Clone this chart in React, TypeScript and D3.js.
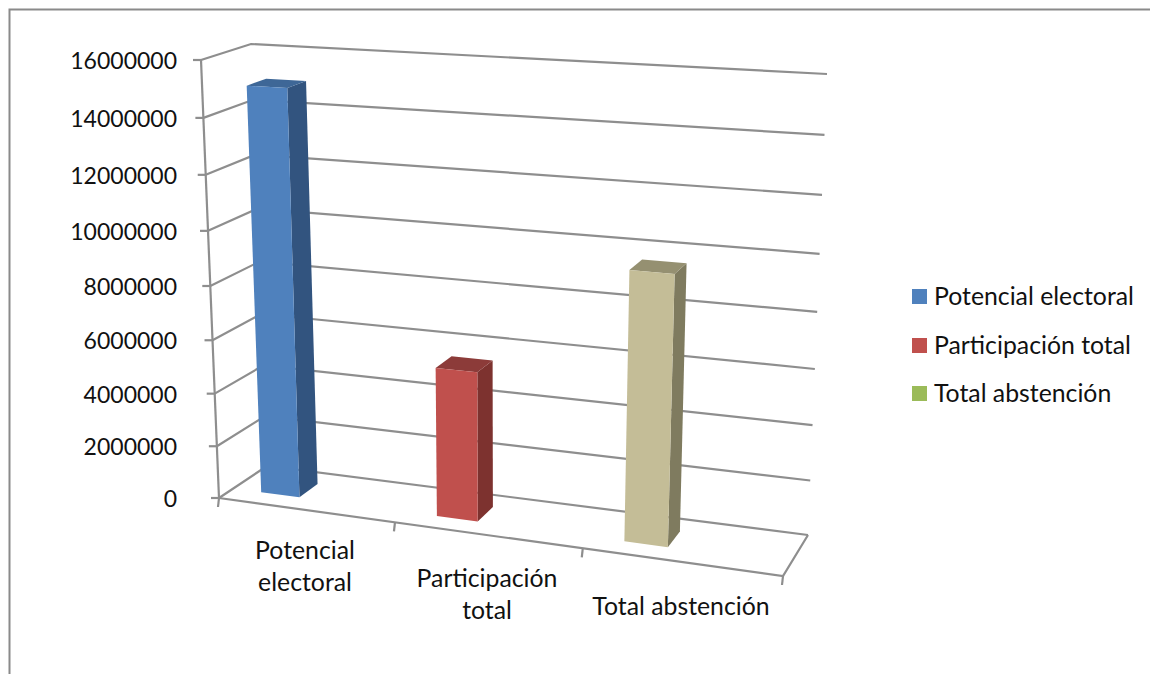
import React from "react";
import * as d3 from "d3";

const categories = ["Potencial electoral", "Participación total", "Total abstención"];
const categoryLines = [["Potencial", "electoral"], ["Participación", "total"], ["Total abstención"]];
const barValues = [15000000, 5500000, 9600000];
const axisTicks = [0, 2000000, 4000000, 6000000, 8000000, 10000000, 12000000, 14000000, 16000000];

const barFront = ["#4F81BD", "#C0504D", "#C4BD97"];
const barSide = ["#32547F", "#7D322F", "#7F7B5F"];
const barTop = ["#3E6797", "#8C3B39", "#959071"];
const legendColors = ["#4F81BD", "#C0504D", "#9BBB59"];

const GRID = "#8E8E8E";
const FONT = "Lato, Carlito, Calibri, sans-serif";
const TEXT = "#111";
const FONT_AXIS = 23;
const FONT_CAT = 24.8;

// Corners of the chart box on screen, indexed [width][height][depth].
type Pt = [number, number];
const corners: Pt[][][] = [
  [[[219, 498], [267, 466]], [[201, 60], [251, 44]]],
  [[[783, 576], [808, 535]], [[803, 92], [827, 74]]],
];

// Wider bands towards the right side of the box, as foreshortened by the view.
const bandEdge = d3.scaleLinear().domain([0, 1, 2, 3]).range([0, 0.312, 0.645, 1]);
const valueFraction = d3.scaleLinear().domain([0, 16000000]).range([0, 1]);
const depth = d3.scaleLinear().domain([0, 1]).range([0, 1]);

// Values compress slightly towards the base of the box.
const warp = (v: number) => {
  const t = valueFraction(v);
  return t / (t + 1.066 * (1 - t));
};

function project(u: number, value: number, zRaw: number): Pt {
  const h = warp(value);
  const z = depth(zRaw);
  const out: Pt = [0, 0];
  for (const k of [0, 1]) {
    const a = corners[0][0][0][k] * (1 - z) + corners[0][0][1][k] * z;
    const b = corners[0][1][0][k] * (1 - z) + corners[0][1][1][k] * z;
    const c = corners[1][0][0][k] * (1 - z) + corners[1][0][1][k] * z;
    const d = corners[1][1][0][k] * (1 - z) + corners[1][1][1][k] * z;
    const left = a * (1 - h) + b * h;
    const right = c * (1 - h) + d * h;
    out[k] = left * (1 - u) + right * u;
  }
  return out;
}

const lineGen = d3.line<Pt>();
const facePath = (pts: Pt[]) => lineGen(pts) + "Z";

const Z_FRONT = 0.3;
const Z_BACK = 0.7;
const BAR_START = 0.16;
const BAR_END = 0.38;

function barFaces(i: number, value: number) {
  const a = bandEdge(i);
  const b = bandEdge(i + 1);
  const u0 = a + (b - a) * BAR_START;
  const u1 = a + (b - a) * BAR_END;
  return {
    front: [project(u0, 0, Z_FRONT), project(u1, 0, Z_FRONT), project(u1, value, Z_FRONT), project(u0, value, Z_FRONT)],
    side: [project(u1, 0, Z_FRONT), project(u1, 0, Z_BACK), project(u1, value, Z_BACK), project(u1, value, Z_FRONT)],
    top: [project(u0, value, Z_FRONT), project(u1, value, Z_FRONT), project(u1, value, Z_BACK), project(u0, value, Z_BACK)],
  };
}

const categoryLabelPos: Pt[] = [[305, 559], [487, 587], [681, 615]];
const LINE_STEP = 32;
const legendY = [289, 338, 386];

export default function App() {
  return (
    <svg
      width={1150}
      height={674}
      style={{ position: "fixed", left: 0, top: 0, background: "#fff" }}
      fontFamily={FONT}
    >
      {/* outer frame: only the top and left edges fall inside the view */}
      <path d="M9.5,674V9.5H1150" fill="none" stroke="#8A8A8A" strokeWidth={2} />

      {/* gridlines along the side and back walls */}
      {axisTicks.map((t) => (
        <path
          key={t}
          d={lineGen([project(0, t, 0), project(0, t, 1), project(1, t, 1)]) as string}
          fill="none"
          stroke={GRID}
          strokeWidth={2.2}
        />
      ))}

      {/* floor outline and the right floor edge */}
      <path
        d={lineGen([project(1, 0, 1), project(1, 0, 0), project(0, 0, 0)]) as string}
        fill="none"
        stroke={GRID}
        strokeWidth={2.2}
      />

      {/* value axis with ticks and labels */}
      <path
        d={lineGen([project(0, 0, 0), project(0, 16000000, 0)]) as string}
        fill="none"
        stroke={GRID}
        strokeWidth={2.2}
      />
      {axisTicks.map((t) => {
        const [x, y] = project(0, t, 0);
        return (
          <g key={t}>
            <line x1={x - 8} x2={x} y1={y} y2={y} stroke={GRID} strokeWidth={2.2} />
            <text x={177} y={y + 9} textAnchor="end" fontSize={FONT_AXIS} fill={TEXT}>
              {t}
            </text>
          </g>
        );
      })}

      {/* category ticks under the front edge */}
      {[0, 1, 2, 3].map((i) => {
        const [x, y] = project(bandEdge(i), 0, 0);
        return <line key={i} x1={x} x2={x - 1} y1={y} y2={y + 9} stroke={GRID} strokeWidth={2.2} />;
      })}

      {/* bars */}
      {barValues.map((v, i) => {
        const f = barFaces(i, v);
        return (
          <g key={categories[i]}>
            <path d={facePath(f.side)} fill={barSide[i]} />
            <path d={facePath(f.top)} fill={barTop[i]} />
            <path d={facePath(f.front)} fill={barFront[i]} />
          </g>
        );
      })}

      {/* category labels */}
      {categoryLines.map((lines, i) => (
        <text key={i} textAnchor="middle" fontSize={FONT_CAT} fill={TEXT}>
          {lines.map((s, j) => (
            <tspan key={s} x={categoryLabelPos[i][0]} y={categoryLabelPos[i][1] + j * LINE_STEP}>
              {s}
            </tspan>
          ))}
        </text>
      ))}

      {/* legend */}
      {categories.map((c, i) => (
        <g key={c}>
          <rect x={912} y={legendY[i]} width={15} height={15} fill={legendColors[i]} />
          <text x={934} y={legendY[i] + 16} fontSize={FONT_CAT} fill={TEXT}>
            {c}
          </text>
        </g>
      ))}
    </svg>
  );
}
